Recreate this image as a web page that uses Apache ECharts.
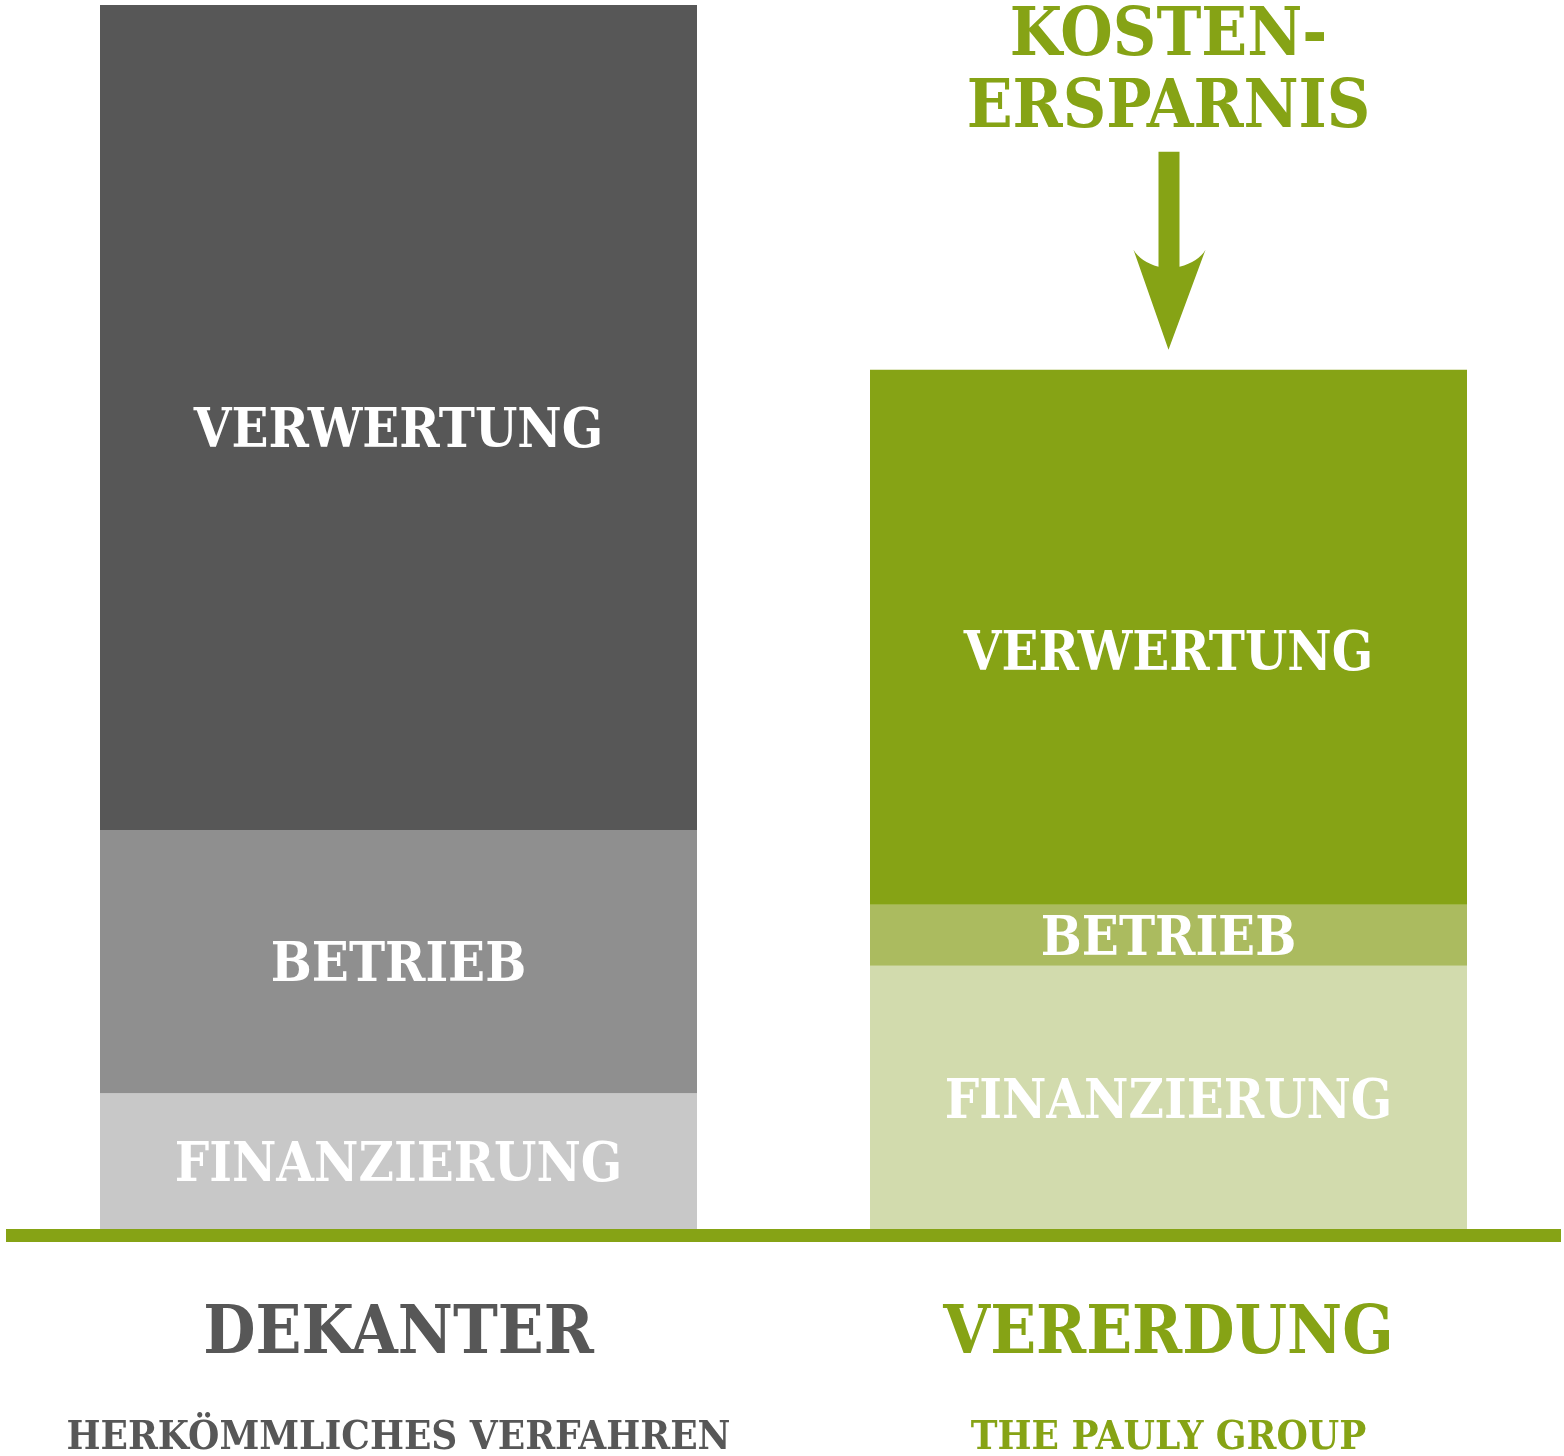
<!DOCTYPE html>
<html>
<head>
<meta charset="utf-8">
<script src="https://cdn.jsdelivr.net/npm/echarts@6/dist/echarts.min.js"></script>
<style>
html,body{margin:0;padding:0;background:#fff;}
#chart{width:1564px;height:1456px;}
</style>
</head>
<body>
<div id="chart"></div>
<script>
// ---- data ----
var categories = ['DEKANTER', 'VERERDUNG'];
var subtitles = ['HERKÖMMLICHES VERFAHREN', 'THE PAULY GROUP'];
var segmentNames = ['FINANZIERUNG', 'BETRIEB', 'VERWERTUNG'];
var finanzierung = [11.1, 21.5];
var betrieb = [21.5, 5.0];
var verwertung = [67.4, 43.7];
var savingsText = ['KOSTEN-', 'ERSPARNIS'];

// ---- styles ----
var FONT = "'DejaVu Serif Condensed', 'DejaVu Serif', serif";
var grayPalette = ['#c8c8c8', '#8f8f8f', '#575757'];
var greenPalette = ['#d2dbad', '#abbb5f', '#86a315'];
var catColor = ['#575757', '#86a315'];
var labelOffsets = [[6, 7], [5, 6], [15, 19]]; // [segment][bar] vertical nudge of inside labels

var seriesData = [finanzierung, betrieb, verwertung];

var chart = echarts.init(document.getElementById('chart'), null, {renderer: 'canvas'});

var series = seriesData.map(function (vals, si) {
  return {
    type: 'bar',
    name: segmentNames[si],
    stack: 'total',
    barWidth: 597,
    data: vals.map(function (v, ci) {
      return {
        value: v,
        itemStyle: {color: (ci === 0 ? grayPalette : greenPalette)[si]},
        label: {offset: [0, labelOffsets[si][ci]]}
      };
    }),
    label: {
      show: true,
      position: 'inside',
      formatter: function () { return segmentNames[si]; },
      color: '#ffffff',
      fontFamily: FONT,
      fontWeight: 'bold',
      fontSize: 54
    },
    emphasis: {disabled: true}
  };
});

var rich = {};
categories.forEach(function (c, i) {
  rich['t' + i] = {color: catColor[i], fontFamily: FONT, fontWeight: 'bold', fontSize: 67, lineHeight: 100};
  rich['s' + i] = {color: catColor[i], fontFamily: FONT, fontWeight: 'bold', fontSize: 40, lineHeight: 106};
});

chart.setOption({
  animation: false,
  backgroundColor: '#ffffff',
  grid: {left: 13.5, right: 10.5, top: 5, bottom: 227, containLabel: false, outerBoundsMode: 'none'},
  xAxis: {
    type: 'category',
    data: categories,
    axisLine: {show: false},
    axisTick: {show: false},
    axisLabel: {
      margin: 57,
      interval: 0,
      hideOverlap: false,
      formatter: function (v, i) { return '{t' + i + '|' + v + '}\n{s' + i + '|' + subtitles[i] + '}'; },
      rich: rich
    }
  },
  yAxis: {type: 'value', min: 0, max: 100, show: false, splitLine: {show: false}},
  series: series
});

// annotation placed from data coordinates
var total1 = finanzierung[1] + betrieb[1] + verwertung[1];
var top1 = chart.convertToPixel({xAxisIndex: 0, yAxisIndex: 0}, [1, total1]);
var base = chart.convertToPixel({xAxisIndex: 0, yAxisIndex: 0}, [0, 0]);
var cx = top1[0], tipY = top1[1] - 20;
function pt(dx, dy) { return [cx + dx, tipY + dy]; }
function quad(p0, c, p1, n) {
  var out = [];
  for (var k = 1; k <= n; k++) {
    var t = k / n, u = 1 - t;
    out.push([u * u * p0[0] + 2 * u * t * c[0] + t * t * p1[0], u * u * p0[1] + 2 * u * t * c[1] + t * t * p1[1]]);
  }
  return out;
}
var arrowPts = [pt(-10, -198), pt(11, -198), pt(11, -83)]
  .concat(quad(pt(11, -83), pt(30, -88), pt(37, -100), 8))
  .concat([pt(0, 0), pt(-35, -100)])
  .concat(quad(pt(-35, -100), pt(-28, -88), pt(-10, -83), 8));

chart.setOption({
  graphic: [
    {
      type: 'rect', z: 10,
      shape: {x: 6, y: base[1], width: 1555, height: 13},
      style: {fill: '#86a315'}
    },
    {
      type: 'polygon', z: 10,
      shape: {points: arrowPts},
      style: {fill: '#86a315'}
    },
    {
      type: 'text', z: 10,
      x: cx, y: 38,
      style: {text: savingsText[0], fill: '#86a315', font: 'bold 67px ' + FONT, align: 'center', verticalAlign: 'middle'}
    },
    {
      type: 'text', z: 10,
      x: cx, y: 110,
      style: {text: savingsText[1], fill: '#86a315', font: 'bold 67px ' + FONT, align: 'center', verticalAlign: 'middle'}
    }
  ]
});
</script>
</body>
</html>
